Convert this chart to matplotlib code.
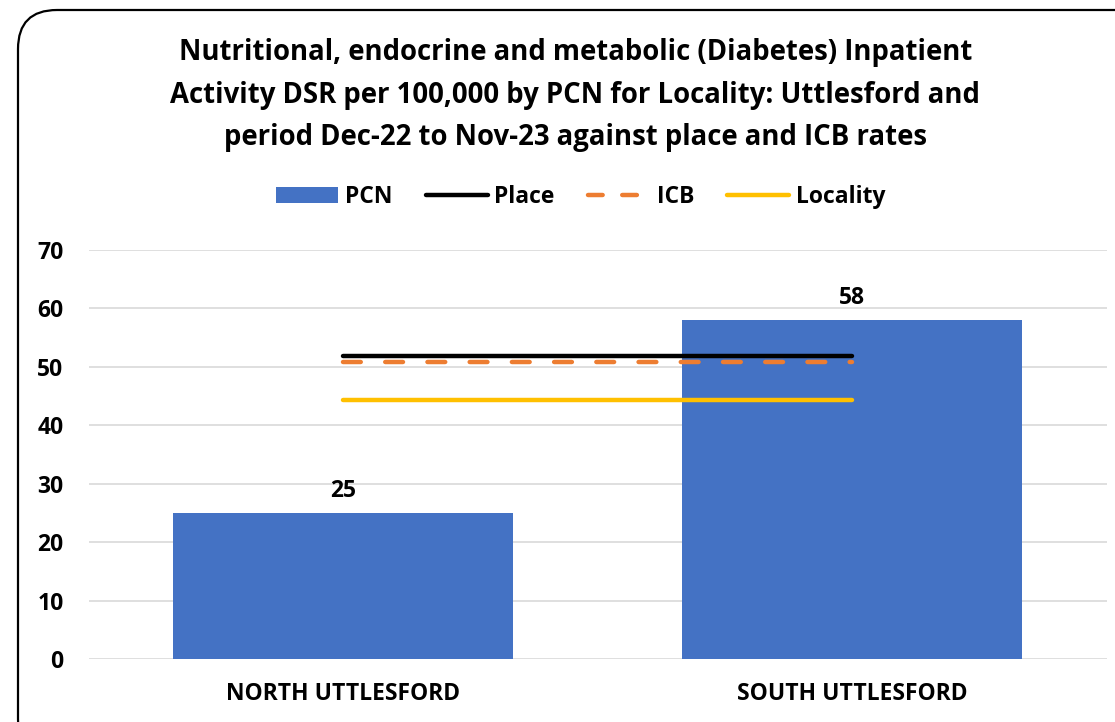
import matplotlib.pyplot as plt
from matplotlib.patches import FancyBboxPatch, Patch
from matplotlib.lines import Line2D

categories = ["NORTH UTTLESFORD", "SOUTH UTTLESFORD"]
pcn = [25, 58]
pcn_labels = ["25", "58"]
place = [51.9, 51.9]
icb = [50.8, 50.8]
locality = [44.4, 44.4]

plt.rcParams['font.family'] = ['Open Sans', 'DejaVu Sans']
plt.rcParams['font.weight'] = 'bold'

fig = plt.figure(figsize=(11.15, 7.22), dpi=100)

# rounded chart border (runs off right and bottom like the screenshot)
border = FancyBboxPatch((18 / 1115, -0.05), 1.2, 1 - 10 / 722 + 0.05,
                        boxstyle="round,pad=0,rounding_size=0.035",
                        transform=fig.transFigure, fill=False,
                        edgecolor='black', linewidth=1.6, mutation_aspect=1115 / 722)
fig.patches.append(border)

ax = fig.add_axes([88.5 / 1115, 1 - 659 / 722, (1106.5 - 88.5) / 1115, (659 - 250) / 722])

x = range(len(categories))
ax.bar(x, pcn, width=0.668, color='#4472C4', zorder=2)
ax.plot(x, place, color='black', lw=3.2, solid_capstyle='round', zorder=3)
ax.plot(x, icb, color='#ED7D31', lw=3.2, dashes=(4, 5.5), dash_capstyle='round', zorder=3)
ax.plot(x, locality, color='#FFC000', lw=3.2, solid_capstyle='round', zorder=3)

for i, v in enumerate(pcn):
    ax.annotate(pcn_labels[i], (i, v), xytext=(0, 7), textcoords='offset points',
                ha='center', va='bottom', fontsize=16.5, fontweight='bold', color='#000000')

ax.set_xlim(-0.5, 1.5)
ax.set_ylim(0, 70)
ax.set_yticks(range(0, 71, 10))
ax.set_xticks(list(x))
ax.set_xticklabels(categories)
ax.tick_params(axis='both', length=0, labelsize=16.5, colors='black')
ax.tick_params(axis='y', pad=18)
ax.tick_params(axis='x', pad=16.5)
ax.grid(axis='y', color='#D9D9D9', lw=1.2, zorder=0)
for s in ax.spines.values():
    s.set_visible(False)

fig.text(0.516, 1 - 95 / 722,
         "Nutritional, endocrine and metabolic (Diabetes) Inpatient\n"
         "Activity DSR per 100,000 by PCN for Locality: Uttlesford and\n"
         "period Dec-22 to Nov-23 against place and ICB rates",
         ha='center', va='center', fontsize=19.8, fontweight='bold', linespacing=1.62)

handles = [Patch(facecolor='#4472C4'),
           Line2D([], [], color='black', lw=3.2, solid_capstyle='round'),
           Line2D([], [], color='#ED7D31', lw=3.2, dashes=(3.3, 4.4), dash_capstyle='round'),
           Line2D([], [], color='#FFC000', lw=3.2, solid_capstyle='round')]
fig.legend(handles, ["PCN", "Place", "ICB", "Locality"], loc='center',
           bbox_to_anchor=(581 / 1115, 1 - 197 / 722), ncol=4, frameon=False,
           fontsize=16.5, handlelength=2.7, handleheight=0.65, columnspacing=1.45,
           handletextpad=0.3)

fig.savefig("out.png", dpi=100)
